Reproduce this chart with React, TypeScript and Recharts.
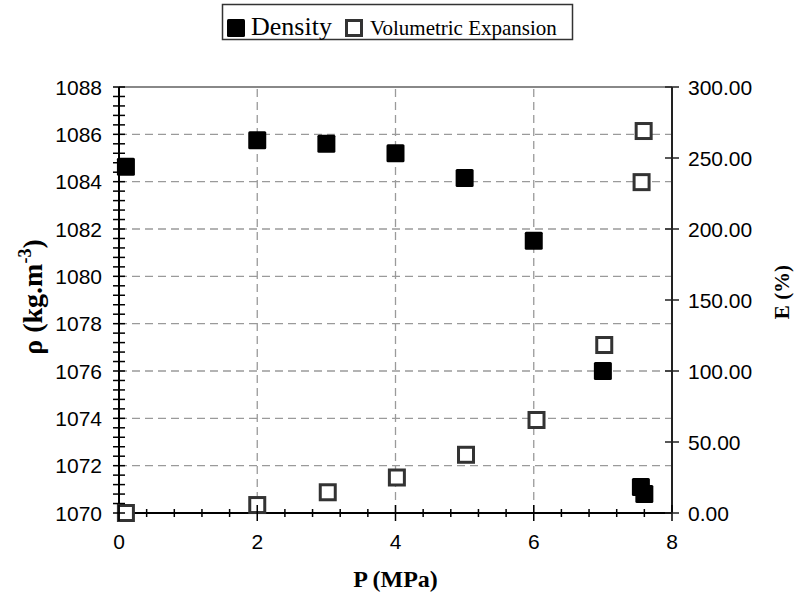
import React from 'react';
import { ComposedChart, Scatter, XAxis, YAxis, ReferenceLine, Legend } from 'recharts';

const densityP = [0.1, 2.0, 3.0, 4.0, 5.0, 6.0, 7.0, 7.55, 7.6];
const densityValues = [1084.63, 1085.75, 1085.6, 1085.2, 1084.15, 1081.5, 1076.0, 1071.1, 1070.8];
const expansionP = [0.1, 2.0, 3.02, 4.02, 5.02, 6.04, 7.02, 7.56, 7.59];
const expansionValues = [0, 5.6, 14.6, 25, 41, 65.5, 118.3, 233, 269];

const xTicks = [0, 0.4, 0.8, 1.2, 1.6, 2, 2.4, 2.8, 3.2, 3.6, 4, 4.4, 4.8, 5.2, 5.6, 6, 6.4, 6.8, 7.2, 7.6, 8];
const xMajorLabels = [0, 2, 4, 6, 8];
const leftTicks = [
  1070, 1070.4, 1070.8, 1071.2, 1071.6, 1072, 1072.4, 1072.8, 1073.2, 1073.6,
  1074, 1074.4, 1074.8, 1075.2, 1075.6, 1076, 1076.4, 1076.8, 1077.2, 1077.6,
  1078, 1078.4, 1078.8, 1079.2, 1079.6, 1080, 1080.4, 1080.8, 1081.2, 1081.6,
  1082, 1082.4, 1082.8, 1083.2, 1083.6, 1084, 1084.4, 1084.8, 1085.2, 1085.6,
  1086, 1086.4, 1086.8, 1087.2, 1087.6, 1088,
];
const leftMajorLabels = [1070, 1072, 1074, 1076, 1078, 1080, 1082, 1084, 1086, 1088];
const rightTicks = [0, 50, 100, 150, 200, 250, 300];
const hGrid = [1072, 1074, 1076, 1078, 1080, 1082, 1084, 1086];
const vGrid = [2, 4, 6];

const densityData = densityP.map((p, i) => ({ x: p, y: densityValues[i] }));
const expansionData = expansionP.map((p, i) => ({ x: p, y: expansionValues[i] }));

const SANS = "'Liberation Sans', Arial, sans-serif";
const SERIF = "'Liberation Serif', 'Times New Roman', serif";
const TICK_FS = 21;

const isIn = (v: number, arr: number[]) => arr.some((a) => Math.abs(a - v) < 1e-6);

const LeftTick = (props: any) => {
  const { x, y, payload } = props;
  const v = payload.value;
  const major = isIn(v, leftMajorLabels);
  return (
    <g>
      <line x1={x - 6} x2={x + 6} y1={y} y2={y} stroke="#000" strokeWidth={1.5} />
      {major && (
        <text x={x - 17} y={y} dy="0.36em" textAnchor="end" fontFamily={SANS} fontSize={TICK_FS} fill="#000">
          {String(Math.round(v))}
        </text>
      )}
    </g>
  );
};

const RightTick = (props: any) => {
  const { x, y, payload } = props;
  const v = payload.value;
  return (
    <g>
      <line x1={x - 7} x2={x + 7} y1={y} y2={y} stroke="#222" strokeWidth={1.5} />
      <text x={x + 16} y={y} dy="0.36em" textAnchor="start" fontFamily={SANS} fontSize={TICK_FS} fill="#000">
        {v.toFixed(2)}
      </text>
    </g>
  );
};

const BottomTick = (props: any) => {
  const { x, y, payload } = props;
  const v = payload.value;
  const major = isIn(v, xMajorLabels);
  const len = major ? 8 : 4;
  return (
    <g>
      <line x1={x} x2={x} y1={y - len} y2={y + len} stroke="#000" strokeWidth={1.5} />
      {major && (
        <text x={x} y={y + 36} textAnchor="middle" fontFamily={SANS} fontSize={TICK_FS} fill="#000">
          {String(Math.round(v))}
        </text>
      )}
    </g>
  );
};

const FilledSquare = (props: any) => {
  const { cx, cy } = props;
  if (cx == null || cy == null) return <g />;
  return <rect x={cx - 9} y={cy - 9} width={18} height={18} rx={1.5} fill="#000" />;
};

const HollowSquare = (props: any) => {
  const { cx, cy } = props;
  if (cx == null || cy == null) return <g />;
  return <rect x={cx - 7.5} y={cy - 7.5} width={15} height={15} fill="#fff" stroke="#333" strokeWidth={3} />;
};

const XTitle = (props: any) => {
  const { viewBox } = props;
  const cx = viewBox.x + viewBox.width / 2;
  return (
    <text x={cx} y={viewBox.y + 74} textAnchor="middle" fontFamily={SERIF} fontWeight="bold" fontSize={24} fill="#000">
      P (MPa)
    </text>
  );
};

const LeftTitle = (props: any) => {
  const { viewBox } = props;
  const cy = viewBox.y + viewBox.height / 2 - 3;
  const cx = 32;
  return (
    <text
      x={cx}
      y={cy}
      transform={`rotate(-90 ${cx} ${cy})`}
      textAnchor="middle"
      dy="0.35em"
      fontFamily={SERIF}
      fontWeight="bold"
      fontSize={28}
      fill="#000"
    >
      ρ (kg.m
      <tspan dy={-11} fontSize={18}>-3</tspan>
      <tspan dy={11}>)</tspan>
    </text>
  );
};

const RightTitle = (props: any) => {
  const { viewBox } = props;
  const cy = viewBox.y + viewBox.height / 2 - 8;
  const cx = 789;
  return (
    <text
      x={cx}
      y={cy}
      transform={`rotate(-90 ${cx} ${cy})`}
      textAnchor="middle"
      fontFamily={SERIF}
      fontWeight="bold"
      fontSize={21}
      fill="#000"
    >
      E (%)
    </text>
  );
};

const LegendBox = () => (
  <svg width={795} height={45} style={{ display: 'block' }}>
    <rect x={222.5} y={4.5} width={350} height={35} fill="#fff" stroke="#333" strokeWidth={1.5} />
    <rect x={227} y={19} width={18} height={18} rx={1.5} fill="#000" />
    <text x={251} y={35} fontFamily={SERIF} fontSize={26} fill="#000">Density</text>
    <rect x={346.5} y={20.5} width={15} height={15} fill="#fff" stroke="#333" strokeWidth={3} />
    <text x={370} y={35} fontFamily={SERIF} fontSize={21} fill="#000">Volumetric Expansion</text>
  </svg>
);

export default function App() {
  return (
    <div style={{ position: 'absolute', left: 0, top: 0, width: 795, height: 601, background: '#fff' }}>
      <ComposedChart width={795} height={601} margin={{ top: 87, right: 0, bottom: 0, left: 0 }}>
        <XAxis
          dataKey="x"
          type="number"
          domain={[0, 8]}
          ticks={xTicks}
          interval={0}
          height={88}
          tickSize={0}
          tickMargin={0}
          tickLine={false}
          tick={<BottomTick />}
          axisLine={{ stroke: '#000', strokeWidth: 2 }}
          label={<XTitle />}
        />
        <YAxis
          yAxisId="left"
          orientation="left"
          dataKey="y"
          type="number"
          domain={[1070, 1088]}
          ticks={leftTicks}
          interval={0}
          width={119}
          tickSize={0}
          tickMargin={0}
          tickLine={false}
          tick={<LeftTick />}
          axisLine={{ stroke: '#000', strokeWidth: 2 }}
          label={<LeftTitle />}
        />
        <YAxis
          yAxisId="right"
          orientation="right"
          dataKey="y"
          type="number"
          domain={[0, 300]}
          ticks={rightTicks}
          interval={0}
          width={123}
          tickSize={0}
          tickMargin={0}
          tickLine={false}
          tick={<RightTick />}
          axisLine={{ stroke: '#222', strokeWidth: 2 }}
          label={<RightTitle />}
        />
        {hGrid.map((v) => (
          <ReferenceLine key={'h' + v} yAxisId="left" y={v} stroke="#9a9a9a" strokeWidth={1.3} strokeDasharray="8 5" />
        ))}
        {vGrid.map((v) => (
          <ReferenceLine key={'v' + v} yAxisId="left" x={v} stroke="#9a9a9a" strokeWidth={1.3} strokeDasharray="8 5" />
        ))}
        <ReferenceLine yAxisId="left" y={1088} stroke="#888" strokeWidth={2} />
        <Legend
          verticalAlign="middle"
          layout="horizontal"
          wrapperStyle={{ top: 0, left: 0, width: 795, height: 45 }}
          content={<LegendBox />}
        />
        <Scatter
          name="Density"
          yAxisId="left"
          data={densityData}
          dataKey="y"
          shape={<FilledSquare />}
          isAnimationActive={false}
        />
        <Scatter
          name="Volumetric Expansion"
          yAxisId="right"
          data={expansionData}
          dataKey="y"
          shape={<HollowSquare />}
          isAnimationActive={false}
        />
      </ComposedChart>
    </div>
  );
}
